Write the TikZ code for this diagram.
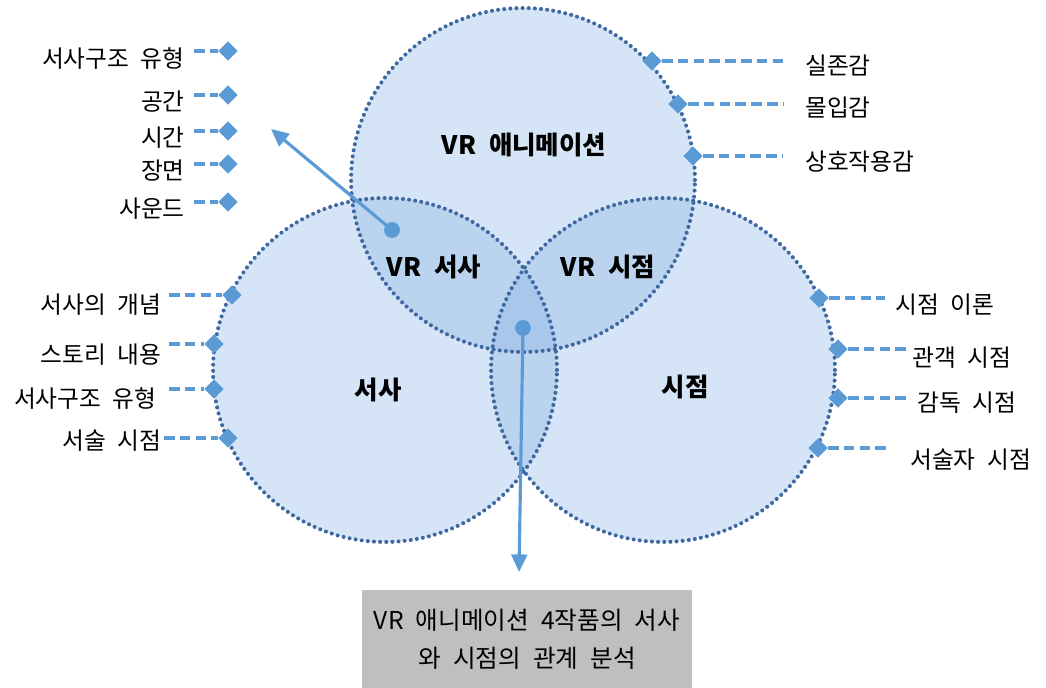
\documentclass[tikz,border=0pt]{standalone}
\usepackage{fontspec}
\setmainfont{Noto Sans CJK KR}[WordSpace=2.2]
\usetikzlibrary{shapes.geometric,arrows.meta}
\definecolor{accent}{RGB}{91,155,213}
\definecolor{ringc}{RGB}{62,104,160}
\definecolor{ringfill}{RGB}{135,178,228}
\definecolor{boxgray}{RGB}{191,191,191}
\begin{document}
\begin{tikzpicture}[x=0.02cm,y=-0.02cm,
  lbl/.style={inner sep=0pt,font=\fontsize{13.5}{15}\selectfont},
  big/.style={inner sep=0pt,font=\fontsize{14.5}{16}\selectfont\bfseries},
  dia/.style={diamond,fill=accent,inner sep=0pt,minimum size=11pt},
  leader/.style={accent,line width=1.8pt,dash pattern=on 6pt off 3pt},
  ringline/.style={ringc,line width=2.3pt,line cap=round,dash pattern=on 0pt off 3.5pt},
  ringdisk/.style={circle,fill=ringfill,fill opacity=0.35,minimum size=6.88cm,inner sep=0pt},
  ptr/.style={accent,line width=1.8pt,-{Triangle[length=10pt,width=9pt]}},
  dotmark/.style={circle,fill=accent,inner sep=0pt,minimum size=9pt},
  infobox/.style={fill=boxgray,minimum width=6.6cm,minimum height=1.96cm,inner sep=0pt,align=center,font=\fontsize{14}{21.6}\selectfont}]
\useasboundingbox (0,0) rectangle (1046,688);

% circles
\node[ringdisk] (ctop) at (523,180) {};
\node[ringdisk] (cleft) at (385,370) {};
\node[ringdisk] (cright) at (663,370) {};
\draw[ringline] (ctop.center) circle[radius=3.44cm];
\draw[ringline] (cleft.center) circle[radius=3.44cm];
\draw[ringline] (cright.center) circle[radius=3.44cm];

% circle labels
\node[big] (tvr) at (524,145) {VR 애니메이션};
\node[big] (tvrs) at (434,267) {VR 서사};
\node[big] (tvrp) at (608,267) {VR 시점};
\node[big] (ts) at (378,390) {서사};
\node[big] (tp) at (685,387) {시점};

% floating left list
\node[lbl,anchor=east] (f1) at (185,59) {서사구조 유형};
\node[lbl,anchor=east] (f2) at (185,102) {공간};
\node[lbl,anchor=east] (f3) at (185,138) {시간};
\node[lbl,anchor=east] (f4) at (185,171) {장면};
\node[lbl,anchor=east] (f5) at (185,209) {사운드};
\node[dia] (fd1) at (228,51) {};
\node[dia] (fd2) at (228,95) {};
\node[dia] (fd3) at (228,131) {};
\node[dia] (fd4) at (228,164) {};
\node[dia] (fd5) at (228,202) {};
\coordinate (fs1) at (194,51);
\coordinate (fs2) at (194,95);
\coordinate (fs3) at (194,131);
\coordinate (fs4) at (194,164);
\coordinate (fs5) at (194,202);
\draw[leader] (fs1) -- (fd1.west);
\draw[leader] (fs2) -- (fd2.west);
\draw[leader] (fs3) -- (fd3.west);
\draw[leader] (fs4) -- (fd4.west);
\draw[leader] (fs5) -- (fd5.west);

% left circle list
\node[lbl,anchor=east] (l1) at (162,305) {서사의 개념};
\node[lbl,anchor=east] (l2) at (162,355) {스토리 내용};
\node[lbl,anchor=east] (l3) at (157,399) {서사구조 유형};
\node[lbl,anchor=east] (l4) at (162,441) {서술 시점};
\node[dia] (ld1) at (232,295) {};
\node[dia] (ld2) at (214,344) {};
\node[dia] (ld3) at (214,389) {};
\node[dia] (ld4) at (228,438) {};
\coordinate (ls1) at (169,295);
\coordinate (ls2) at (169,344);
\coordinate (ls3) at (169,389);
\coordinate (ls4) at (164,438);
\draw[leader] (ls1) -- (ld1.west);
\draw[leader] (ls2) -- (ld2.west);
\draw[leader] (ls3) -- (ld3.west);
\draw[leader] (ls4) -- (ld4.west);

% top circle list
\node[dia] (td1) at (652,61) {};
\node[dia] (td2) at (678,104) {};
\node[dia] (td3) at (693,156) {};
\coordinate (te1) at (783,61);
\coordinate (te2) at (783,104);
\coordinate (te3) at (783,156);
\draw[leader] (td1.east) -- (te1);
\draw[leader] (td2.east) -- (te2);
\draw[leader] (td3.east) -- (te3);
\node[lbl,anchor=west] (t1) at (805,66) {실존감};
\node[lbl,anchor=west] (t2) at (805,108) {몰입감};
\node[lbl,anchor=west] (t3) at (805,162) {상호작용감};

% right circle list
\node[dia] (rd1) at (819,298) {};
\node[dia] (rd2) at (838,349) {};
\node[dia] (rd3) at (838,398) {};
\node[dia] (rd4) at (818,448) {};
\coordinate (re1) at (885,298);
\coordinate (re2) at (908,349);
\coordinate (re3) at (908,398);
\coordinate (re4) at (888,448);
\draw[leader] (rd1.east) -- (re1);
\draw[leader] (rd2.east) -- (re2);
\draw[leader] (rd3.east) -- (re3);
\draw[leader] (rd4.east) -- (re4);
\node[lbl,anchor=west] (r1) at (895,305) {시점 이론};
\node[lbl,anchor=west] (r2) at (912,358) {관객 시점};
\node[lbl,anchor=west] (r3) at (917,403) {감독 시점};
\node[lbl,anchor=west] (r4) at (910,460) {서술자 시점};

% pointers
\coordinate (p1s) at (392,230);
\coordinate (p1e) at (271,129);
\draw[ptr] (p1s) -- (p1e);
\node[dotmark] (dot1) at (p1s) {};
\coordinate (p2s) at (523,328);
\coordinate (p2e) at (519,572);
\draw[ptr] (p2s) -- (p2e);
\node[dotmark] (dot2) at (p2s) {};

% result box
\node[infobox] (res) at (527,639) {VR 애니메이션 4작품의 서사\\와 시점의 관계 분석};
\end{tikzpicture}
\end{document}
